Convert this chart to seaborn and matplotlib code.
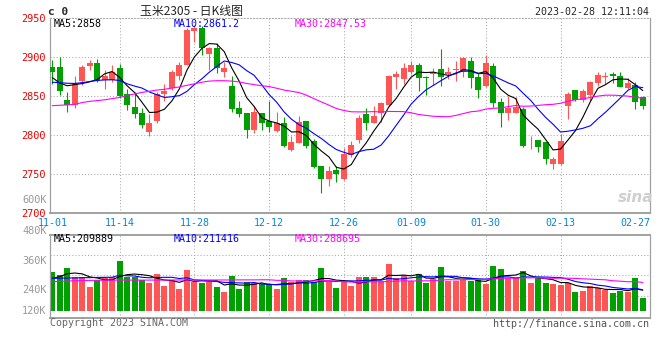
import numpy as np
import pandas as pd
import matplotlib
matplotlib.use("Agg")
import matplotlib.pyplot as plt
import seaborn as sns

# ---------------- data ----------------
tick_idx = [0, 9, 19, 29, 39, 48, 58, 68, 78]
tick_labels = ["11-01", "11-14", "11-28", "12-12", "12-26", "01-09", "01-30", "02-13", "02-27"]

opens = [2887, 2887, 2845.3, 2838.9, 2870.1, 2889, 2892.3, 2871, 2871, 2886.8,
         2853, 2836.8, 2829, 2804.7, 2818.4, 2853, 2860.3, 2876, 2890.2, 2934.2,
         2937.2, 2903.8, 2912.4, 2880.8, 2863.7, 2835.5, 2829, 2806.8, 2829, 2818.4,
         2806, 2816.2, 2781.2, 2790.6, 2818.4, 2792.7, 2760.7, 2744, 2755.6, 2744,
         2774.8, 2794, 2827.4, 2816.2, 2828.2, 2838.9, 2874.8, 2872.2, 2881.6, 2890.2,
         2875.2, 2879, 2885, 2878.2, 2884.2, 2880.8, 2895.3, 2875.2, 2863.7, 2889.3,
         2842.3, 2829, 2829, 2833.8, 2793.6, 2794, 2791.9, 2763.2, 2762.8, 2838,
         2858.1, 2845.3, 2851.7, 2866.7, 2874.8, 2878.2, 2876, 2861.1, 2864.5, 2849.6]
highs = [2897, 2900, 2855, 2876, 2890, 2896, 2897.4, 2883.8, 2890, 2891.5,
         2859, 2855, 2834.6, 2827.4, 2855, 2865.8, 2883.8, 2894.4, 2937.2, 2940,
         2940, 2913, 2918, 2894.4, 2876, 2844, 2829, 2838, 2829, 2844,
         2830.3, 2824, 2799.6, 2825.2, 2818.4, 2795.3, 2760.7, 2760.7, 2761, 2784,
         2792.7, 2826, 2834.6, 2838, 2842.3, 2877.4, 2882.5, 2892.3, 2895.3, 2893,
         2876, 2886.8, 2910.7, 2888, 2895.3, 2901, 2901, 2879.5, 2903, 2892.3,
         2847.4, 2850.4, 2849.6, 2836, 2799.6, 2794, 2791.9, 2772.6, 2801.7, 2855,
         2858.1, 2859.4, 2869.7, 2881.6, 2881.6, 2880.8, 2880.8, 2874, 2868.8, 2850.9]
lows = [2866, 2851.7, 2830.3, 2834.6, 2864.5, 2883.8, 2868.8, 2859.4, 2868.8, 2847.4,
        2832.5, 2821.8, 2809.8, 2799.6, 2815.4, 2844, 2858, 2871, 2890.2, 2920,
        2903, 2883.8, 2879.5, 2875.2, 2830.3, 2824, 2797, 2802.6, 2806.8, 2804.7,
        2804.7, 2785.5, 2780, 2790, 2784, 2757.7, 2725.6, 2735.5, 2740.6, 2743,
        2772.6, 2790, 2806.8, 2815.4, 2816.7, 2837, 2859.4, 2865.8, 2878.2, 2857,
        2851.7, 2864.5, 2863.7, 2872.2, 2869.7, 2875.2, 2861, 2848.3, 2862.4, 2836.8,
        2811.1, 2819.7, 2828.2, 2785.5, 2782, 2779, 2763, 2756.8, 2762, 2821,
        2844, 2842.3, 2844, 2863.7, 2865.4, 2866.7, 2862.4, 2859.4, 2833.8, 2833.8]
closes = [2881.5, 2856.8, 2838.9, 2866.7, 2888, 2892.3, 2871, 2876, 2881.6, 2850.4,
          2838.9, 2827.4, 2813.2, 2816.2, 2853, 2857.3, 2880.8, 2890.2, 2935, 2938,
          2912.4, 2912.4, 2886.8, 2886.8, 2833.8, 2827.4, 2806.8, 2829.9, 2816.2, 2811.1,
          2815.4, 2786.8, 2792, 2817.5, 2786.8, 2759, 2744, 2754.7, 2750.4, 2775.6,
          2787.6, 2822.6, 2815.4, 2825.2, 2841, 2876, 2878.2, 2886.8, 2890.2, 2874,
          2873, 2881, 2875.2, 2880.8, 2885, 2899.6, 2874, 2858, 2892.3, 2841.9,
          2829, 2835.5, 2836.8, 2786.8, 2794.4, 2785.5, 2769.7, 2769.7, 2792.7, 2852.6,
          2845.3, 2856.8, 2868.8, 2877.4, 2876, 2876.5, 2862.4, 2866.7, 2843.2, 2838]
volumes_k = [394, 364, 439, 340, 340, 241, 309, 340, 340, 507,
             340, 340, 309, 286, 377, 252, 309, 221, 415, 296,
             282, 296, 241, 194, 354, 221, 292, 282, 269, 269,
             221, 333, 289, 313, 313, 289, 435, 289, 231, 289,
             252, 343, 343, 343, 299, 476, 333, 364, 303, 377,
             286, 320, 445, 299, 299, 313, 299, 309, 275, 456,
             425, 330, 330, 405, 286, 330, 282, 275, 262, 282,
             190, 204, 252, 235, 207, 180, 204, 194, 333, 133]

# moving-average values before enough history exists
ma5_head = [2874, 2867, 2863.5, 2865]
ma10_head = [2868, 2867.5, 2866.7, 2866.5, 2867.5, 2869, 2870.3, 2871, 2871.2]
ma30_head = [2838, 2838.5, 2839, 2839.7, 2842, 2843.5, 2844.5, 2845.5, 2847, 2848.5,
             2851, 2853, 2855, 2856.5, 2858, 2859, 2860.5, 2862, 2864, 2866,
             2868, 2869.5, 2870, 2870, 2869.5, 2868.5, 2866.5, 2865, 2863.5]
vma5_head = [330, 347, 377, 384]
vma10_head = [330, 331, 333, 334, 336, 337, 339, 340, 341]
vma30_head = [296, 299, 302, 305, 307, 309, 310, 311, 311, 312,
              312, 312, 312, 312, 312, 312, 313, 313, 313, 313,
              313, 313, 313, 313, 313, 314, 314, 314, 315]

RED = "#ff5555"
GREEN = "#00a000"
GRID = "#aaaaaa"
SPINE = "#a0a0a0"
MONO = "DejaVu Sans Mono"

# ---------------- helpers ----------------
def moving(values, n, head):
    s = pd.Series(values, dtype=float).rolling(n).mean()
    s.iloc[:n - 1] = head
    return s

df = pd.DataFrame({"i": np.arange(len(closes)), "o": opens, "h": highs,
                   "l": lows, "c": closes, "v": volumes_k})
df["dir"] = np.where(df["c"] >= df["o"], "up", "down")
colors = np.where(df["dir"] == "up", RED, GREEN)

sns.set_style("white")
plt.rcParams["font.family"] = ["DejaVu Sans Mono", "DejaVu Sans"]

W, H = 660, 360
fig = plt.figure(figsize=(W / 100, H / 100), dpi=100)

def rect(l, t, r, b):
    return [l / W, 1 - b / H, (r - l) / W, (b - t) / H]

axp = fig.add_axes(rect(50, 18.3, 650, 213.3))
axv = fig.add_axes(rect(50, 235, 650, 318.3))

xlim = (-0.31, 79.97)
dot = (0, (1, 2))

# ---------------- price panel ----------------
for y in [2750, 2800, 2850, 2900]:
    axp.axhline(y, color=GRID, lw=0.75, ls=dot, zorder=0)
for k in tick_idx[1:-1]:
    axp.axvline(k, color=GRID, lw=0.75, ls=dot, zorder=0)
    axv.axvline(k, color=GRID, lw=0.75, ls=dot, zorder=0)

axp.vlines(df["i"], df["l"], df["h"], colors=colors, lw=0.8, zorder=2)
body_bottom = np.minimum(df["o"], df["c"])
body_h = np.maximum((df["c"] - df["o"]).abs(), 1.0)
axp.bar(df["i"], body_h, bottom=body_bottom, width=0.8, color=colors,
        linewidth=0, zorder=3)

ma5 = moving(closes, 5, ma5_head)
ma10 = moving(closes, 10, ma10_head)
ma30 = moving(closes, 30, ma30_head)
sns.lineplot(x=df["i"], y=ma5, color="black", lw=0.8, ax=axp, zorder=4, estimator=None)
sns.lineplot(x=df["i"], y=ma10, color="#0000ff", lw=0.8, ax=axp, zorder=4, estimator=None)
sns.lineplot(x=df["i"], y=ma30, color="#ff00ff", lw=0.8, ax=axp, zorder=4, estimator=None)

axp.set_xlim(*xlim)
axp.set_ylim(2700, 2950)
axp.set_yticks([2700, 2750, 2800, 2850, 2900, 2950])
axp.set_yticklabels(["2700", "2750", "2800", "2850", "2900", "2950"],
                    color="#ee0000", fontsize=7.4, family=MONO)
axp.set_xticks(tick_idx)
axp.set_xticklabels(tick_labels, color="#0a84d0", fontsize=7.2, family=MONO)
axp.tick_params(axis="y", length=0, pad=3)
axp.tick_params(axis="x", length=0, pad=3.5)
axp.set_xlabel("")
axp.set_ylabel("")
for side in ["left", "right"]:
    axp.spines[side].set_color(SPINE)
    axp.spines[side].set_linewidth(0.9)
axp.spines["bottom"].set_color(SPINE)
axp.spines["bottom"].set_linewidth(1.4)
axp.spines["top"].set_color(GRID)
axp.spines["top"].set_linewidth(0.75)
axp.spines["top"].set_linestyle(dot)

# ---------------- volume panel ----------------
vlo, vhi = -77.8, 771.8
for f in [0.27, 0.52, 0.76]:
    axv.axhline(vlo + f * (vhi - vlo), color=GRID, lw=0.75, ls=dot, zorder=0)

sns.barplot(data=df, x="i", y="v", hue="dir", palette={"up": RED, "down": GREEN},
            native_scale=True, width=0.8, dodge=False, saturation=1,
            errorbar=None, legend=False, linewidth=0, ax=axv, zorder=2)

vma5 = moving(volumes_k, 5, vma5_head)
vma10 = moving(volumes_k, 10, vma10_head)
vma30 = moving(volumes_k, 30, vma30_head)
sns.lineplot(x=df["i"], y=vma5, color="black", lw=0.8, ax=axv, zorder=4, estimator=None)
sns.lineplot(x=df["i"], y=vma10, color="#0000ff", lw=0.8, ax=axv, zorder=4, estimator=None)
sns.lineplot(x=df["i"], y=vma30, color="#ff00ff", lw=0.8, ax=axv, zorder=4, estimator=None)

axv.set_xlim(*xlim)
axv.set_ylim(vlo, vhi)
axv.set_xticks([])
axv.set_yticks([])
axv.set_xlabel("")
axv.set_ylabel("")
for side in ["left", "right"]:
    axv.spines[side].set_color(SPINE)
    axv.spines[side].set_linewidth(0.9)
for side in ["top", "bottom"]:
    axv.spines[side].set_color(SPINE)
    axv.spines[side].set_linewidth(1.4)

# ---------------- texts ----------------
def ftext(x, y, s, **kw):
    fig.text(x / W, 1 - y / H, s, **kw)

vol_axis_labels = ["600K", "480K", "360K", "240K", "120K"]
vol_axis_y = [200.3, 230.7, 260.7, 290.3, 310.7]
for lab, yy in zip(vol_axis_labels, vol_axis_y):
    ftext(46.5, yy, lab, ha="right", va="center", color="#999999", fontsize=7.4, family=MONO)

ftext(48, 12, "c 0", ha="left", va="center", fontsize=8, fontweight="bold", family=MONO)
ftext(140, 11, "玉米2305 - 日K线图", ha="left", va="center", fontsize=8.6,
      family=["Noto Sans CJK SC", "DejaVu Sans"])
ftext(649, 12, "2023-02-28 12:11:04", ha="right", va="center", fontsize=7.2, family=MONO)

ftext(54, 23.7, "MA5:2858", ha="left", va="center", color="black", fontsize=7.2, family=MONO)
ftext(174, 23.7, "MA10:2861.2", ha="left", va="center", color="#0000ff", fontsize=7.2, family=MONO)
ftext(295, 23.7, "MA30:2847.53", ha="left", va="center", color="#ff00ff", fontsize=7.2, family=MONO)

ftext(54, 238.5, "MA5:209889", ha="left", va="center", color="black", fontsize=7.2, family=MONO)
ftext(174, 238.5, "MA10:211416", ha="left", va="center", color="#0000ff", fontsize=7.2, family=MONO)
ftext(295, 238.5, "MA30:288695", ha="left", va="center", color="#ff00ff", fontsize=7.2, family=MONO)

ftext(50, 323, "Copyright 2023 SINA.COM", ha="left", va="center", color="#666666",
      fontsize=7.2, family=MONO)
ftext(649, 324, "http://finance.sina.com.cn", ha="right", va="center", color="#555555",
      fontsize=7.2, family=MONO)

ftext(636, 197, "sina", ha="center", va="center", color="#cfcfcf", fontsize=11,
      fontstyle="italic", fontweight="bold", family="DejaVu Sans")

fig.savefig("out.png", dpi=100, facecolor="white")
